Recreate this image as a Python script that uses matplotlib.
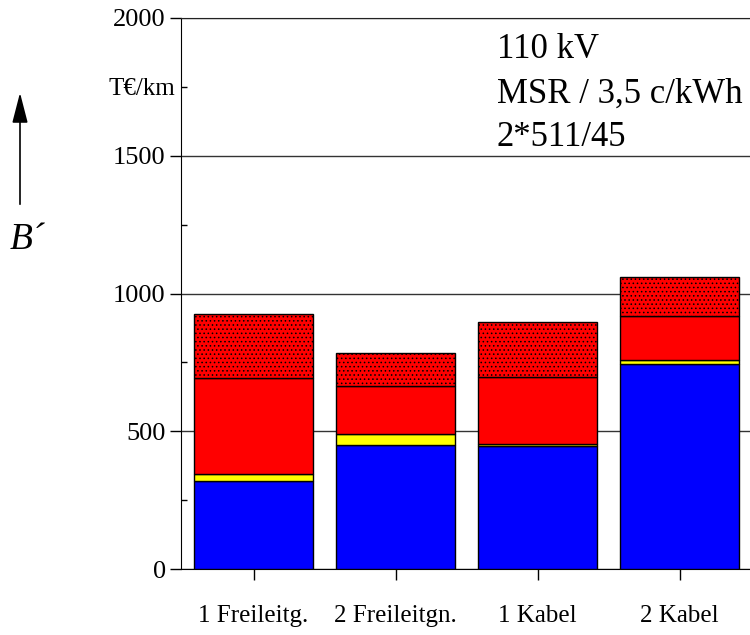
import matplotlib
matplotlib.use("Agg")
import matplotlib.pyplot as plt
import numpy as np

plt.rcParams['font.family'] = ['Liberation Serif', 'DejaVu Serif']
plt.rcParams['hatch.linewidth'] = 0.6

categories = ["1 Freileitg.", "2 Freileitgn.", "1 Kabel", "2 Kabel"]
blue_vals = [318, 449, 447, 745]
yellow_vals = [28, 42, 8, 14]
red_vals = [346, 173, 243, 158]
dotted_vals = [232, 119, 197, 144]

yticks_major = [0, 500, 1000, 1500, 2000]
yticks_minor = [250, 750, 1250, 1750]

fig = plt.figure(figsize=(7.5, 6.35), dpi=100)
ax = fig.add_axes([181/750, 1-569/635, 1-181/750, (569-18)/635])

x = np.arange(len(categories))
w = 0.838
bottom = np.zeros(len(categories))
for vals, col, hatch in [(blue_vals, '#0000FF', None), (yellow_vals, '#FFFF00', None),
                         (red_vals, '#FF0000', None), (dotted_vals, '#FF0000', '....')]:
    ax.bar(x, vals, w, bottom=bottom, color=col, edgecolor='black', linewidth=1.0,
           hatch=hatch, zorder=3)
    bottom += np.array(vals)

ax.set_xlim(-0.5106, 3.496)
ax.set_ylim(0, 2000)
ax.set_yticks(yticks_major)
ax.set_yticklabels([str(v) for v in yticks_major], fontsize=19)
ax.set_yticks(yticks_minor, minor=True)
ax.set_yticklabels(["", "", "", "T€/km"], minor=True, fontsize=18)
ax.tick_params(axis='y', which='major', direction='out', length=8, width=1, pad=3)
ax.tick_params(axis='y', which='minor', direction='in', length=4, width=1, pad=4)
ax.set_xticks(x)
ax.set_xticklabels(categories, fontsize=18)
ax.tick_params(axis='x', direction='out', length=8, width=1, pad=18)

ax.yaxis.grid(True, which='major', color='#333333', linewidth=1.0, zorder=0)
ax.set_axisbelow(True)
ax.spines['right'].set_visible(False)
ax.spines['top'].set_color('#222222')

fig.text(497/750, 1-50/635, "110 kV", fontsize=25, va='center', ha='left')
fig.text(497/750, 1-94/635, "MSR / 3,5 c/kWh", fontsize=25, va='center', ha='left')
fig.text(497/750, 1-138/635, "2*511/45", fontsize=25, va='center', ha='left')

fig.patches.append(matplotlib.patches.FancyArrowPatch(
    (20/750, 1-207/635), (20/750, 1-90/635), transform=fig.transFigure,
    arrowstyle='-|>,head_length=6.2,head_width=1.6', mutation_scale=3, color='black', linewidth=1.2))
fig.text(27/750, 1-240/635, "B´", fontsize=27, style='italic', ha='center', va='center')

fig.savefig("out.png", dpi=100)
